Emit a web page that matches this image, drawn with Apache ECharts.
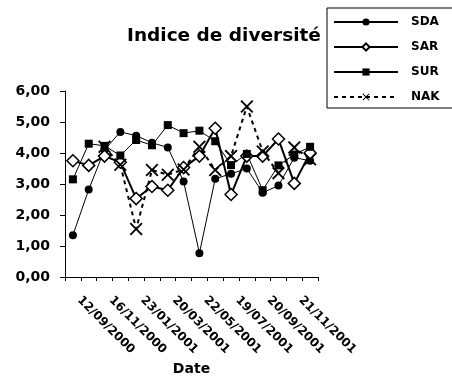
<!DOCTYPE html>
<html>
<head>
<meta charset="utf-8">
<script src="https://cdn.jsdelivr.net/npm/echarts@6/dist/echarts.min.js"></script>
<style>
  html, body { margin: 0; padding: 0; background: #fff; }
</style>
</head>
<body>
<div id="chart" style="width: 452px; height: 381px;"></div>
<script>
// dates de prélèvement (seules celles affichées sont connues, les autres restent vides)
const dates = ['12/09/2000', '', '16/11/2000', '', '23/01/2001', '', '20/03/2001', '',
  '22/05/2001', '', '19/07/2001', '', '20/09/2001', '', '21/11/2001', ''];

const sda = [1.35, 2.82, 4.10, 4.68, 4.56, 4.33, 4.18, 3.08, 0.77, 3.17, 3.33, 3.50, 2.72, 2.95, 3.85, 3.75];
const sar = [3.75, 3.60, 3.90, 3.70, 2.53, 2.92, 2.80, 3.53, 3.90, 4.80, 2.66, 3.90, 3.90, 4.45, 3.02, 4.00];
const sur = [3.15, 4.30, 4.23, 3.92, 4.42, 4.25, 4.90, 4.64, 4.72, 4.38, 3.61, 3.97, 2.80, 3.60, 3.95, 4.20];
const nak = [null, null, 4.20, 3.62, 1.55, 3.45, 3.30, 3.47, 4.20, 3.45, 3.90, 5.50, 4.05, 3.35, 4.18, 3.80];

const yTicks = [0, 1, 2, 3, 4, 5, 6];

const FONT = 'DejaVu Sans';
const xMark = 'path://M0,1L1,0L5,4L9,0L10,1L6,5L10,9L9,10L5,6L1,10L0,9L4,5Z';

const chart = echarts.init(document.getElementById('chart'));

const option = {
  backgroundColor: '#fff',
  animation: false,
  title: {
    text: 'Indice de diversité',
    left: 122,
    top: 22,
    textStyle: { fontFamily: FONT, fontSize: 18.5, fontWeight: 'bold', color: '#000' }
  },
  legend: {
    data: ['SDA', 'SAR', 'SUR', 'NAK'],
    orient: 'vertical',
    left: 327,
    top: 8,
    z: 10,
    itemWidth: 64,
    itemHeight: 9,
    itemGap: 13,
    padding: [8, 60, 5, 6],
    backgroundColor: '#fff',
    borderColor: '#000',
    borderWidth: 1,
    borderRadius: 0,
    textStyle: {
      fontFamily: FONT, fontSize: 12, fontWeight: 'bold', color: '#000',
      padding: [0, 0, 0, 8]
    }
  },
  grid: {
    left: 65,
    right: 134,
    top: 91,
    bottom: 104,
    containLabel: false
  },
  xAxis: {
    type: 'category',
    data: dates,
    boundaryGap: true,
    name: 'Date',
    nameLocation: 'middle',
    nameGap: 85,
    nameTextStyle: { fontFamily: FONT, fontSize: 14, fontWeight: 'bold', color: '#000' },
    axisLine: { lineStyle: { color: '#000', width: 1 } },
    axisTick: { show: true, interval: 0, length: 4, lineStyle: { color: '#000' } },
    axisLabel: {
      interval: 0,
      rotate: -45,
      margin: 15,
      padding: [0, 0, 0, 9],
      fontFamily: FONT,
      fontSize: 12,
      fontWeight: 'bold',
      color: '#000'
    },
    splitLine: { show: false }
  },
  yAxis: {
    type: 'value',
    min: yTicks[0],
    max: yTicks[yTicks.length - 1],
    interval: 1,
    axisLine: { show: true, lineStyle: { color: '#000', width: 1 } },
    axisTick: { show: true, length: 5, lineStyle: { color: '#000' } },
    axisLabel: {
      margin: 15,
      fontFamily: FONT,
      fontSize: 14,
      fontWeight: 'bold',
      color: '#000',
      formatter: v => v.toFixed(2).replace('.', ',')
    },
    splitLine: { show: false }
  },
  series: [
    {
      name: 'SDA',
      type: 'line',
      data: sda,
      symbol: 'circle',
      symbolSize: 8,
      lineStyle: { color: '#000', width: 1 },
      itemStyle: { color: '#000', borderColor: '#000', borderWidth: 0 }
    },
    {
      name: 'SAR',
      type: 'line',
      data: sar,
      symbol: 'diamond',
      symbolSize: 12,
      lineStyle: { color: '#000', width: 2 },
      itemStyle: { color: '#fff', borderColor: '#000', borderWidth: 1.5 }
    },
    {
      name: 'SUR',
      type: 'line',
      data: sur,
      symbol: 'rect',
      symbolSize: 8,
      lineStyle: { color: '#000', width: 1 },
      itemStyle: { color: '#000', borderColor: '#000', borderWidth: 0 }
    },
    {
      name: 'NAK',
      type: 'line',
      data: nak,
      symbol: xMark,
      symbolSize: 13,
      lineStyle: { color: '#000', width: 2, type: [4, 4] },
      itemStyle: { color: '#000', borderWidth: 0 }
    }
  ]
};

chart.setOption(option);
</script>
</body>
</html>
